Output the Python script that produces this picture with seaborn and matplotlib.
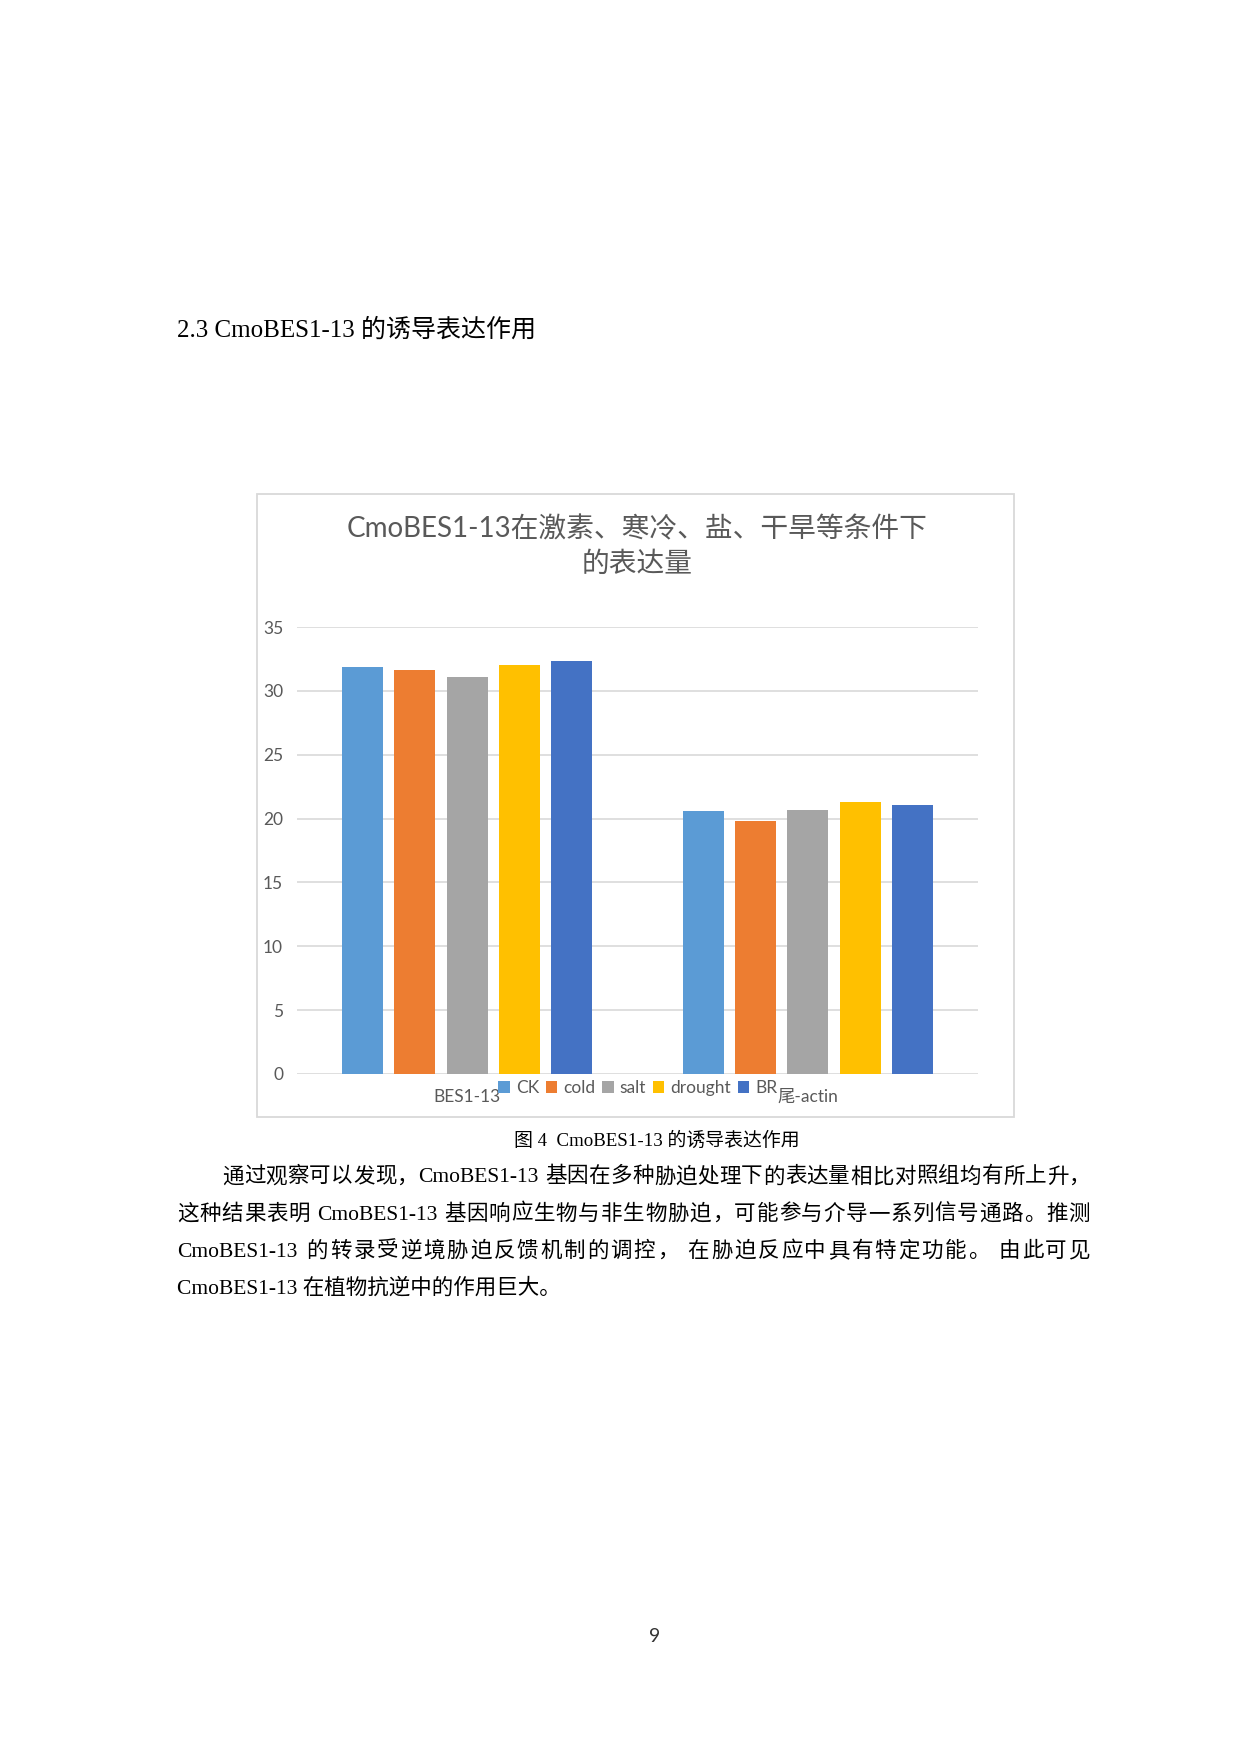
"""
CmoBES1-13 induced expression page: grouped bar chart plus surrounding text
"""

import re
import matplotlib
matplotlib.use("Agg")
import matplotlib.pyplot as plt
from matplotlib.patches import Rectangle
import seaborn as sns
import pandas as pd

# data
genes = ["BES1-13", "尾-actin"]
treatments = ["CK", "cold", "salt", "drought", "BR"]
bes1_13 = [31.9, 31.6, 31.1, 32.0, 32.3]
actin = [20.6, 19.8, 20.7, 21.3, 21.1]
colors = ["#5B9BD5", "#ED7D31", "#A5A5A5", "#FFC000", "#4472C4"]
y_ticks = [0, 5, 10, 15, 20, 25, 30, 35]

chart_title = ["CmoBES1-13在激素、寒冷、盐、干旱等条件下", "的表达量"]
heading = "2.3 CmoBES1-13 的诱导表达作用"
caption = "图 4  CmoBES1-13 的诱导表达作用"
body = [
    "通过观察可以发现，CmoBES1-13 基因在多种胁迫处理下的表达量相比对照组均有所上升，",
    "这种结果表明 CmoBES1-13 基因响应生物与非生物胁迫，可能参与介导一系列信号通路。推测",
    "CmoBES1-13 的转录受逆境胁迫反馈机制的调控， 在胁迫反应中具有特定功能。 由此可见",
    "CmoBES1-13 在植物抗逆中的作用巨大。",
]
page_number = "9"

df = pd.DataFrame({
    "gene": [genes[0]] * len(treatments) + [genes[1]] * len(treatments),
    "treatment": treatments * 2,
    "value": bes1_13 + actin,
})

sns.set_theme(style="white")
plt.rcParams["font.family"] = ["Lato", "Noto Sans CJK SC", "DejaVu Sans"]
SERIF = ["Liberation Serif", "Noto Sans CJK SC", "DejaVu Sans"]
GREY = "#595959"

W, H = 1240, 1754
fig = plt.figure(figsize=(W / 100, H / 100), dpi=100)
fig.patch.set_facecolor("white")


def fx(px):
    return px / W


def fy(py):
    return 1 - py / H


# chart frame
fig.patches.append(Rectangle((fx(257), fy(1117)), (1014 - 257) / W, (1117 - 494) / H,
                             transform=fig.transFigure, fill=False,
                             edgecolor="#D9D9D9", lw=1.3))

ax = fig.add_axes([fx(297), fy(1074), (978 - 297) / W, (1074 - 627) / H])
sns.barplot(data=df, x="gene", y="value", hue="treatment", palette=colors,
            saturation=1, width=0.768, gap=0.216, linewidth=0, ax=ax)

ax.set_xlim(-0.5, 1.5)
ax.set_ylim(0, 35)
ax.set_yticks(y_ticks)
ax.yaxis.grid(True, color="#D9D9D9", lw=1.2)
ax.set_axisbelow(True)
for s in ax.spines.values():
    s.set_visible(False)
ax.set_xlabel("")
ax.set_ylabel("")
ax.tick_params(axis="both", length=0, labelsize=12.5, labelcolor=GREY)
ax.tick_params(axis="x", pad=10.5)
ax.tick_params(axis="y", pad=10)

handles, labels = ax.get_legend_handles_labels()
ax.get_legend().remove()
fig.legend(handles, labels, loc="center", bbox_to_anchor=(fx(638), fy(1088)),
           ncol=5, frameon=False, fontsize=12.5, handlelength=0.65,
           handleheight=0.65, handletextpad=0.35, columnspacing=0.4,
           labelcolor=GREY, borderaxespad=0, borderpad=0)

# chart title
fig.text(fx(637), fy(537), chart_title[0], ha="center", va="baseline",
         fontsize=20, color=GREY)
fig.text(fx(637), fy(572), chart_title[1], ha="center", va="baseline",
         fontsize=20, color=GREY)

# page text
renderer = fig.canvas.get_renderer()


def advance(tok, size):
    """Pen advance of a token, measured between two bars"""
    a = fig.text(0, 0, "|" + tok + "|", fontsize=size, family=SERIF)
    b = fig.text(0, 0, "||", fontsize=size, family=SERIF)
    w = a.get_window_extent(renderer).width - b.get_window_extent(renderer).width
    a.remove()
    b.remove()
    return w


def put_line(text, x0, y, x1, size):
    """Draw one justified line token by token"""
    tokens = re.findall(r"[A-Za-z0-9.\-]+|.", text)
    widths = [advance(t, size) for t in tokens]
    extra = (x1 - x0 - sum(widths)) / (len(tokens) - 1)
    x = x0
    for tok, w in zip(tokens, widths):
        fig.text(fx(x), fy(y), tok, fontsize=size, family=SERIF,
                 va="baseline", color="black")
        x += w + extra


fig.text(fx(177), fy(337), heading, fontsize=18, family=SERIF, va="baseline",
         color="black")
fig.text(fx(657), fy(1145.5), caption, fontsize=13.6, family=SERIF,
         ha="center", va="baseline", color="black")

body_size = 15.5
put_line(body[0], 222, 1182.5, 1090, body_size)
put_line(body[1], 177, 1219.7, 1090, body_size)
put_line(body[2], 177, 1256.8, 1090, body_size)
fig.text(fx(177), fy(1294), body[3], fontsize=body_size, family=SERIF,
         va="baseline", color="black")

fig.text(fx(655), fy(1642), page_number, fontsize=14, ha="center",
         va="baseline", color="#333333")

fig.savefig("out.png", dpi=100, facecolor="white")
plt.close(fig)
